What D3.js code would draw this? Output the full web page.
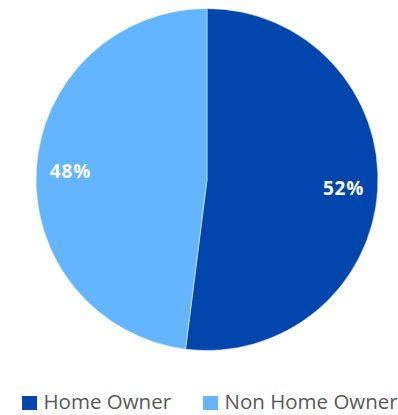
<!DOCTYPE html>
<html>
<head>
<meta charset="utf-8">
<script src="https://cdn.jsdelivr.net/npm/d3@7"></script>
<style>
  html, body { margin: 0; padding: 0; background: #fff; }
  svg { display: block; }
</style>
</head>
<body>
<svg id="chart" width="398" height="415"></svg>
<script>
// Share of households by ownership status
const categories = ["Home Owner", "Non Home Owner"];
const shares = [52, 48];
const colors = ["#0046AD", "#63B5FF"];

const svg = d3.select("#chart");
const cx = 207, cy = 179.5, radius = 171;

const pie = d3.pie().sort(null).value(d => d.value);
const arcs = pie(categories.map((c, i) => ({ name: c, value: shares[i], color: colors[i] })));

const arc = d3.arc().innerRadius(0).outerRadius(radius);
const labelArc = d3.arc().innerRadius(radius * 0.8).outerRadius(radius * 0.8);

const g = svg.append("g").attr("transform", `translate(${cx},${cy})`);

g.selectAll("path.slice")
  .data(arcs)
  .join("path")
  .attr("class", "slice")
  .attr("d", arc)
  .attr("fill", d => d.data.color)
  .attr("stroke", "#fff")
  .attr("stroke-width", 0.5);

g.selectAll("text.value")
  .data(arcs)
  .join("text")
  .attr("class", "value")
  .attr("transform", d => `translate(${labelArc.centroid(d)})`)
  .attr("text-anchor", "middle")
  .attr("dy", "0.36em")
  .attr("fill", "#fff")
  .attr("font-family", "'Open Sans', sans-serif")
  .attr("font-weight", "bold")
  .attr("font-size", 19)
  .attr("letter-spacing", 0.8)
  .text(d => d.data.value + "%");

// Legend
const legend = svg.append("g").attr("transform", "translate(0,402)");
const legendX = [22, 203];
const items = legend.selectAll("g.item")
  .data(arcs)
  .join("g")
  .attr("class", "item")
  .attr("transform", (d, i) => `translate(${legendX[i]},0)`);

items.append("rect")
  .attr("x", 0).attr("y", -6)
  .attr("width", 15).attr("height", 14)
  .attr("fill", d => d.data.color);

items.append("text")
  .attr("x", 21.5)
  .attr("dy", "0.36em")
  .attr("fill", "#595959")
  .attr("font-family", "'Open Sans', sans-serif")
  .attr("font-size", 20.5)
  .text(d => d.data.name);
</script>
</body>
</html>
